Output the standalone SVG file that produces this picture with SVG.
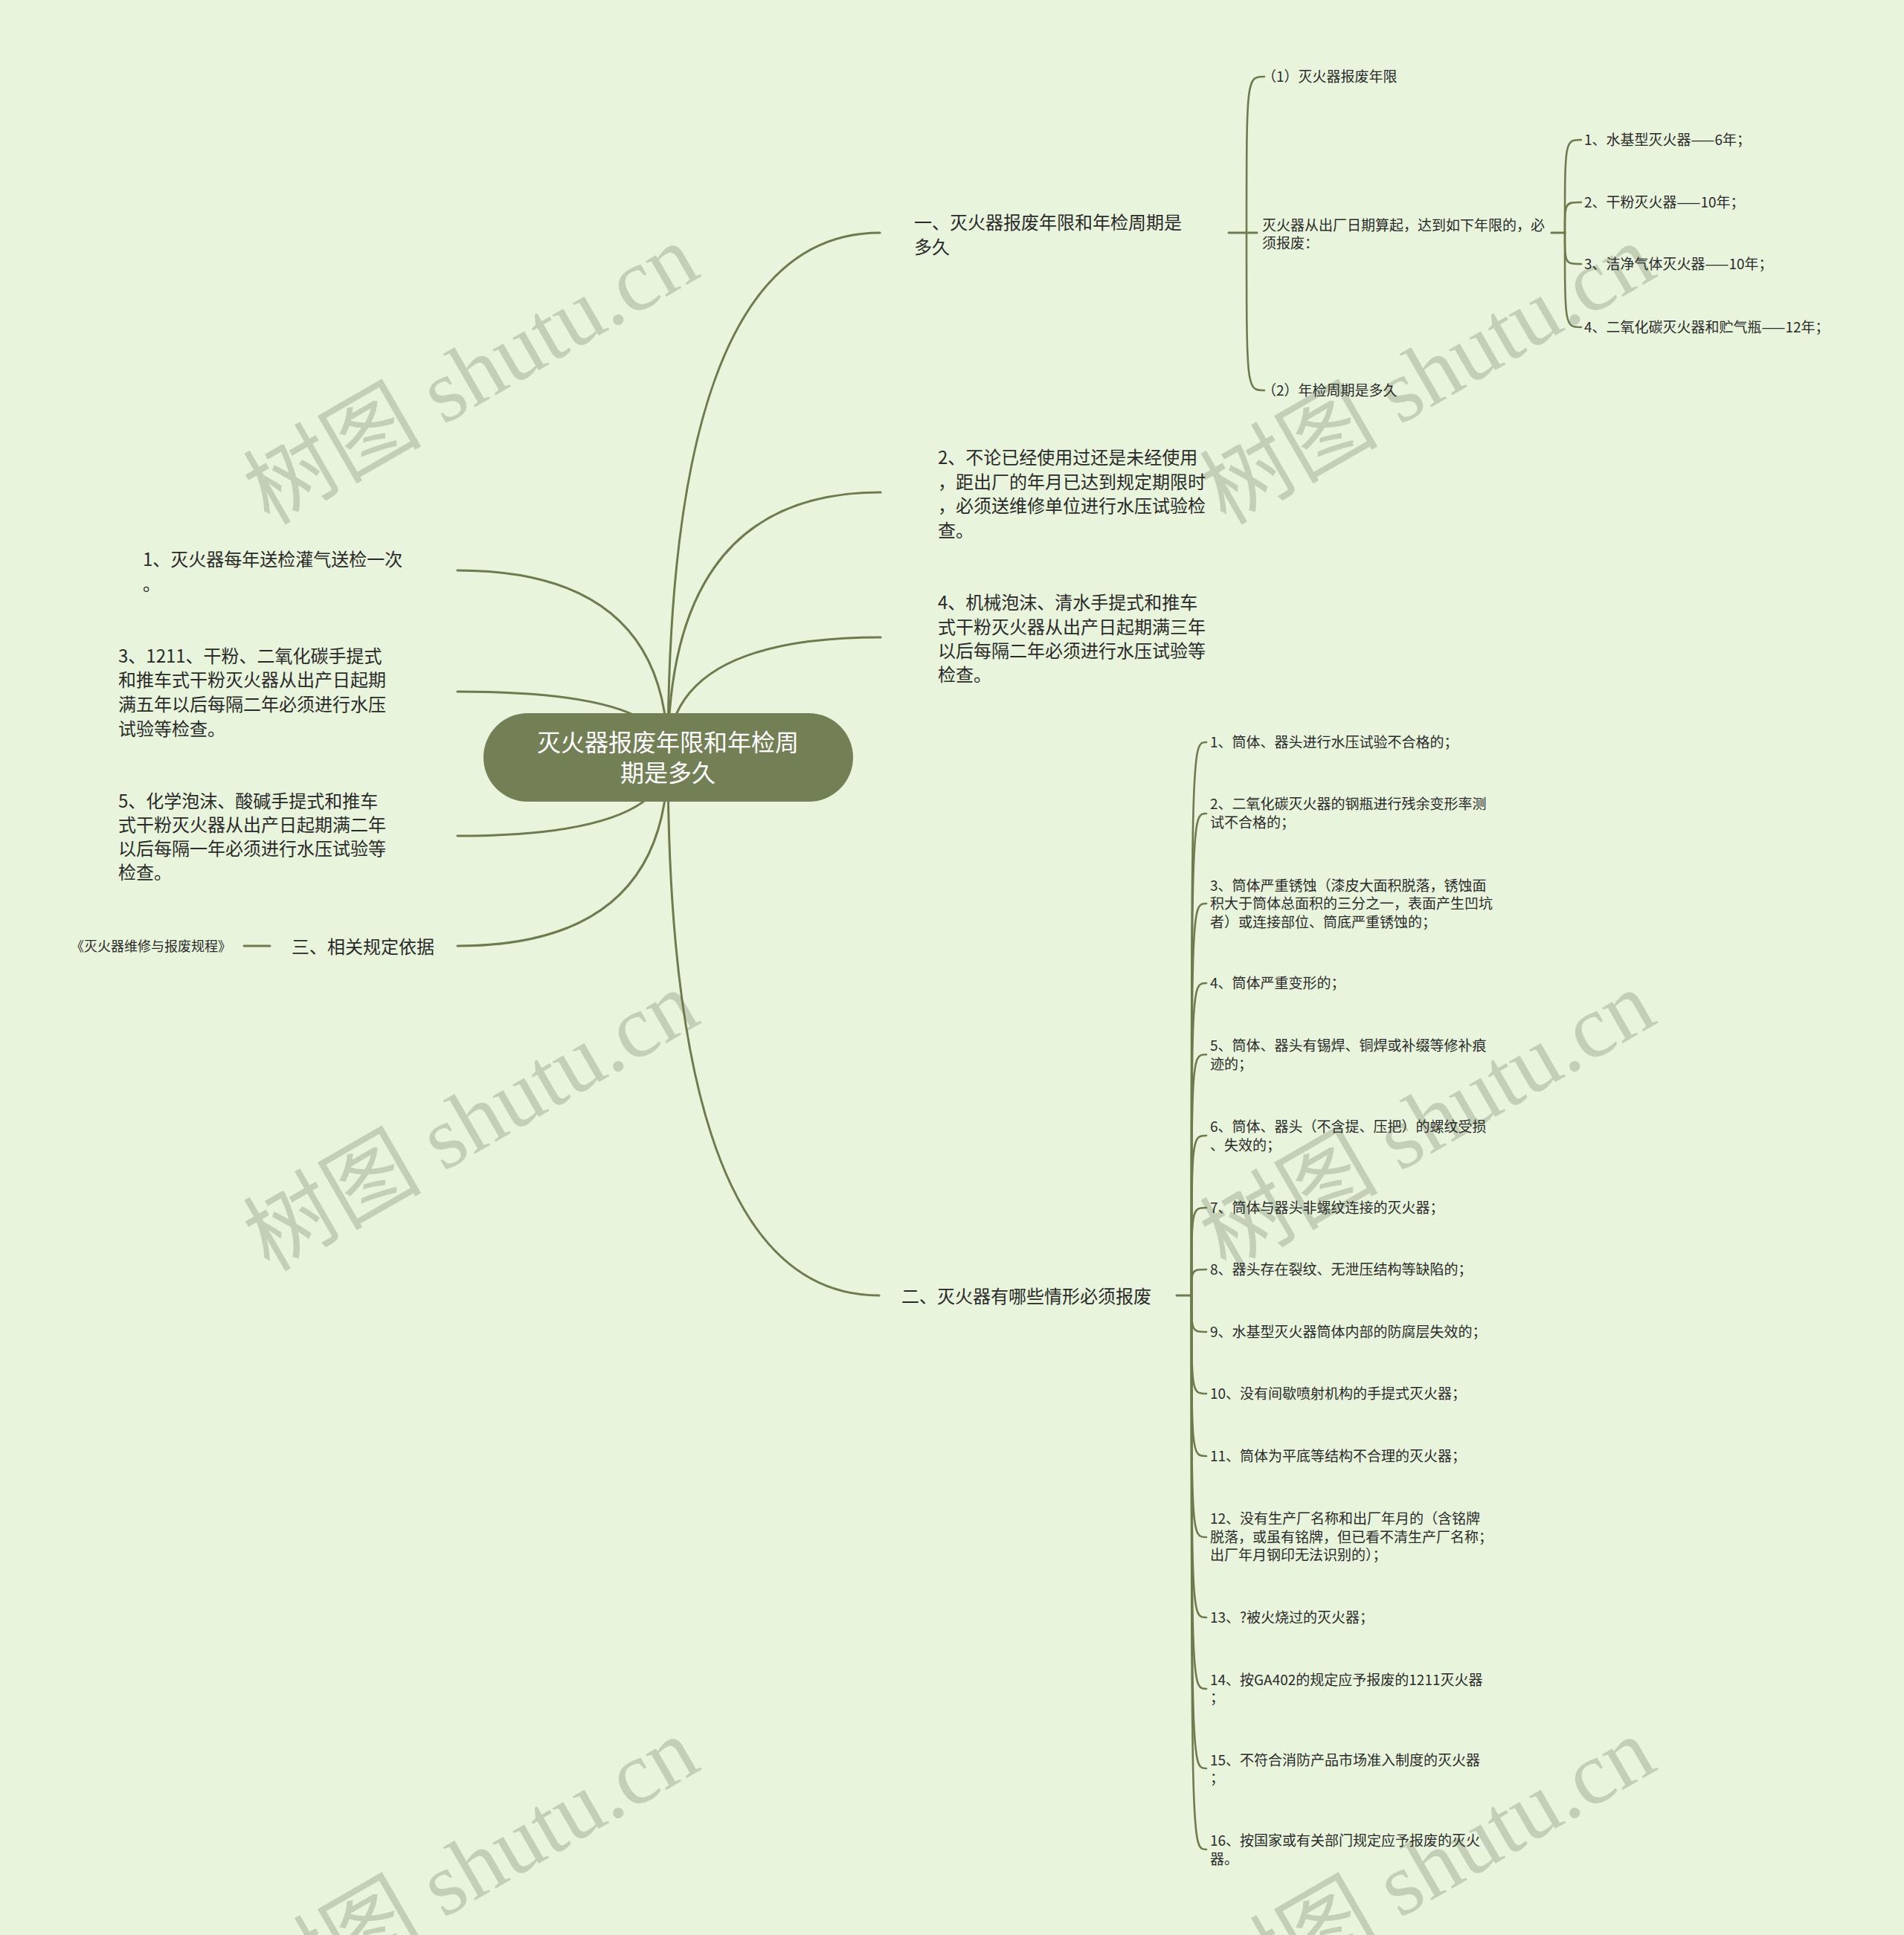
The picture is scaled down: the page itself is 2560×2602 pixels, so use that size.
<svg xmlns="http://www.w3.org/2000/svg" width="2560" height="2602" viewBox="0 0 2560 2602">
<style>
.ln{fill:none;stroke:#6e7b4e;stroke-width:3;stroke-linecap:round}
.br{fill:none;stroke:#6e7b4e;stroke-width:2.6;stroke-linecap:round}
.t24{font-family:"Noto Sans CJK SC","Noto Sans",sans-serif;font-size:24px;fill:#2a2a2a}
.t19{font-family:"Noto Sans CJK SC","Noto Sans",sans-serif;font-size:19px;fill:#2a2a2a}
.t18{font-family:"Noto Sans CJK SC","Noto Sans",sans-serif;font-size:18px;fill:#2a2a2a}
.ct{font-family:"Noto Sans CJK SC","Noto Sans",sans-serif;font-size:32px;fill:#ffffff}
.wm{font-family:"Liberation Serif","Noto Sans CJK SC",serif;font-size:120px;fill:#c3cfb6}
</style>
<rect width="2560" height="2602" fill="#e8f5dc"/>
<g id="watermarks">
<text class="wm" transform="translate(362,707) rotate(-30)">树图 shutu.cn</text>
<text class="wm" transform="translate(1648,707) rotate(-30)">树图 shutu.cn</text>
<text class="wm" transform="translate(362,1711) rotate(-30)">树图 shutu.cn</text>
<text class="wm" transform="translate(1648,1711) rotate(-30)">树图 shutu.cn</text>
<text class="wm" transform="translate(362,2715) rotate(-30)">树图 shutu.cn</text>
<text class="wm" transform="translate(1648,2715) rotate(-30)">树图 shutu.cn</text>
</g>
<g id="connectors">
<path class="ln" d="M898,1018 Q898,313 1183,313"/>
<path class="ln" d="M898,1018 Q898,662 1184,662"/>
<path class="ln" d="M898,1018 Q898,857 1184,857"/>
<path class="ln" d="M898,1018 Q898,767 615,767"/>
<path class="ln" d="M898,1018 Q898,930 615,930"/>
<path class="ln" d="M898,1018 Q898,1124 615,1124"/>
<path class="ln" d="M898,1018 Q898,1272 615,1272"/>
<path class="ln" d="M898,1018 Q898,1742 1182,1742"/>
<path class="ln" d="M328,1272 L363,1272"/>
<path class="ln" d="M1652,313 L1690,313"/>
<path class="br" d="M1676,313 C1676,103 1676,103 1700,103"/>
<path class="br" d="M1676,313 C1676,525 1676,525 1700,525"/>
<path class="ln" d="M2086,313 L2104,313"/>
<path class="br" d="M2104,313 C2104,188 2104,188 2126,188"/>
<path class="br" d="M2104,313 C2104,272 2104,272 2126,272"/>
<path class="br" d="M2104,313 C2104,355 2104,355 2126,355"/>
<path class="br" d="M2104,313 C2104,440 2104,440 2126,440"/>
<path class="ln" d="M1582,1742 L1602,1742"/>
<path class="br" d="M1602,1742 C1602,998 1602,998 1622,998"/>
<path class="br" d="M1602,1742 C1602,1094 1602,1094 1622,1094"/>
<path class="br" d="M1602,1742 C1602,1215 1602,1215 1622,1215"/>
<path class="br" d="M1602,1742 C1602,1322 1602,1322 1622,1322"/>
<path class="br" d="M1602,1742 C1602,1418 1602,1418 1622,1418"/>
<path class="br" d="M1602,1742 C1602,1527 1602,1527 1622,1527"/>
<path class="br" d="M1602,1742 C1602,1624 1602,1624 1622,1624"/>
<path class="br" d="M1602,1742 C1602,1707 1602,1707 1622,1707"/>
<path class="br" d="M1602,1742 C1602,1791 1602,1791 1622,1791"/>
<path class="br" d="M1602,1742 C1602,1874 1602,1874 1622,1874"/>
<path class="br" d="M1602,1742 C1602,1958 1602,1958 1622,1958"/>
<path class="br" d="M1602,1742 C1602,2067 1602,2067 1622,2067"/>
<path class="br" d="M1602,1742 C1602,2175 1602,2175 1622,2175"/>
<path class="br" d="M1602,1742 C1602,2271 1602,2271 1622,2271"/>
<path class="br" d="M1602,1742 C1602,2378 1602,2378 1622,2378"/>
<path class="br" d="M1602,1742 C1602,2487 1602,2487 1622,2487"/>
</g>
<g id="root">
<rect x="650" y="959" width="497" height="119" rx="59.5" fill="#738055"/>
<text class="ct" x="898" y="1010" text-anchor="middle">灭火器报废年限和年检周</text>
<text class="ct" x="898" y="1051" text-anchor="middle">期是多久</text>
</g>
<g id="n1">
<text class="t24"><tspan x="1229" y="308">一、灭火器报废年限和年检周期是</tspan><tspan x="1229" y="341">多久</tspan></text>
</g>
<g id="n1-1"><text class="t19" x="1697" y="110">（1）灭火器报废年限</text></g>
<g id="n1-2"><text class="t19"><tspan x="1697" y="310">灭火器从出厂日期算起，达到如下年限的，必</tspan><tspan x="1697" y="334">须报废：</tspan></text></g>
<g id="n1-3"><text class="t19" x="1697" y="532">（2）年检周期是多久</text></g>
<g id="n1-2-1"><text class="t19" x="2130" y="195">1、水基型灭火器——6年；</text></g>
<g id="n1-2-2"><text class="t19" x="2130" y="279">2、干粉灭火器——10年；</text></g>
<g id="n1-2-3"><text class="t19" x="2130" y="362">3、洁净气体灭火器——10年；</text></g>
<g id="n1-2-4"><text class="t19" x="2130" y="447">4、二氧化碳灭火器和贮气瓶——12年；</text></g>
<g id="n2">
<text class="t24"><tspan x="1261" y="624">2、不论已经使用过还是未经使用</tspan><tspan x="1261" y="657">，距出厂的年月已达到规定期限时</tspan><tspan x="1261" y="689">，必须送维修单位进行水压试验检</tspan><tspan x="1261" y="722">查。</tspan></text>
</g>
<g id="n4">
<text class="t24"><tspan x="1261" y="819">4、机械泡沫、清水手提式和推车</tspan><tspan x="1261" y="852">式干粉灭火器从出产日起期满三年</tspan><tspan x="1261" y="884">以后每隔二年必须进行水压试验等</tspan><tspan x="1261" y="916">检查。</tspan></text>
</g>
<g id="l1">
<text class="t24"><tspan x="192" y="761">1、灭火器每年送检灌气送检一次</tspan><tspan x="192" y="794">。</tspan></text>
</g>
<g id="l3">
<text class="t24"><tspan x="159" y="891">3、1211、干粉、二氧化碳手提式</tspan><tspan x="159" y="923">和推车式干粉灭火器从出产日起期</tspan><tspan x="159" y="956">满五年以后每隔二年必须进行水压</tspan><tspan x="159" y="989">试验等检查。</tspan></text>
</g>
<g id="l5">
<text class="t24"><tspan x="159" y="1086">5、化学泡沫、酸碱手提式和推车</tspan><tspan x="159" y="1118">式干粉灭火器从出产日起期满二年</tspan><tspan x="159" y="1150">以后每隔一年必须进行水压试验等</tspan><tspan x="159" y="1182">检查。</tspan></text>
</g>
<g id="l3rd"><text class="t24" x="392" y="1282">三、相关规定依据</text></g>
<g id="l3rd-1"><text class="t18" x="95" y="1279">《灭火器维修与报废规程》</text></g>
<g id="n2nd"><text class="t24" x="1212" y="1752">二、灭火器有哪些情形必须报废</text></g>
<g id="c1"><text class="t19" x="1627" y="1005">1、筒体、器头进行水压试验不合格的；</text></g>
<g id="c2"><text class="t19"><tspan x="1627" y="1088">2、二氧化碳灭火器的钢瓶进行残余变形率测</tspan><tspan x="1627" y="1113">试不合格的；</tspan></text></g>
<g id="c3"><text class="t19"><tspan x="1627" y="1198">3、筒体严重锈蚀（漆皮大面积脱落，锈蚀面</tspan><tspan x="1627" y="1222">积大于筒体总面积的三分之一，表面产生凹坑</tspan><tspan x="1627" y="1247">者）或连接部位、筒底严重锈蚀的；</tspan></text></g>
<g id="c4"><text class="t19" x="1627" y="1329">4、筒体严重变形的；</text></g>
<g id="c5"><text class="t19"><tspan x="1627" y="1413">5、筒体、器头有锡焊、铜焊或补缀等修补痕</tspan><tspan x="1627" y="1438">迹的；</tspan></text></g>
<g id="c6"><text class="t19"><tspan x="1627" y="1522">6、筒体、器头（不含提、压把）的螺纹受损</tspan><tspan x="1627" y="1547">、失效的；</tspan></text></g>
<g id="c7"><text class="t19" x="1627" y="1631">7、筒体与器头非螺纹连接的灭火器；</text></g>
<g id="c8"><text class="t19" x="1627" y="1714">8、器头存在裂纹、无泄压结构等缺陷的；</text></g>
<g id="c9"><text class="t19" x="1627" y="1798">9、水基型灭火器筒体内部的防腐层失效的；</text></g>
<g id="c10"><text class="t19" x="1627" y="1881">10、没有间歇喷射机构的手提式灭火器；</text></g>
<g id="c11"><text class="t19" x="1627" y="1965">11、筒体为平底等结构不合理的灭火器；</text></g>
<g id="c12"><text class="t19"><tspan x="1627" y="2049">12、没有生产厂名称和出厂年月的（含铭牌</tspan><tspan x="1627" y="2074">脱落，或虽有铭牌，但已看不清生产厂名称；</tspan><tspan x="1627" y="2098">出厂年月钢印无法识别的）；</tspan></text></g>
<g id="c13"><text class="t19" x="1627" y="2182">13、?被火烧过的灭火器；</text></g>
<g id="c14"><text class="t19"><tspan x="1627" y="2266">14、按GA402的规定应予报废的1211灭火器</tspan><tspan x="1627" y="2290">；</tspan></text></g>
<g id="c15"><text class="t19"><tspan x="1627" y="2374">15、不符合消防产品市场准入制度的灭火器</tspan><tspan x="1627" y="2398">；</tspan></text></g>
<g id="c16"><text class="t19"><tspan x="1627" y="2482">16、按国家或有关部门规定应予报废的灭火</tspan><tspan x="1627" y="2507">器。</tspan></text></g>
</svg>
